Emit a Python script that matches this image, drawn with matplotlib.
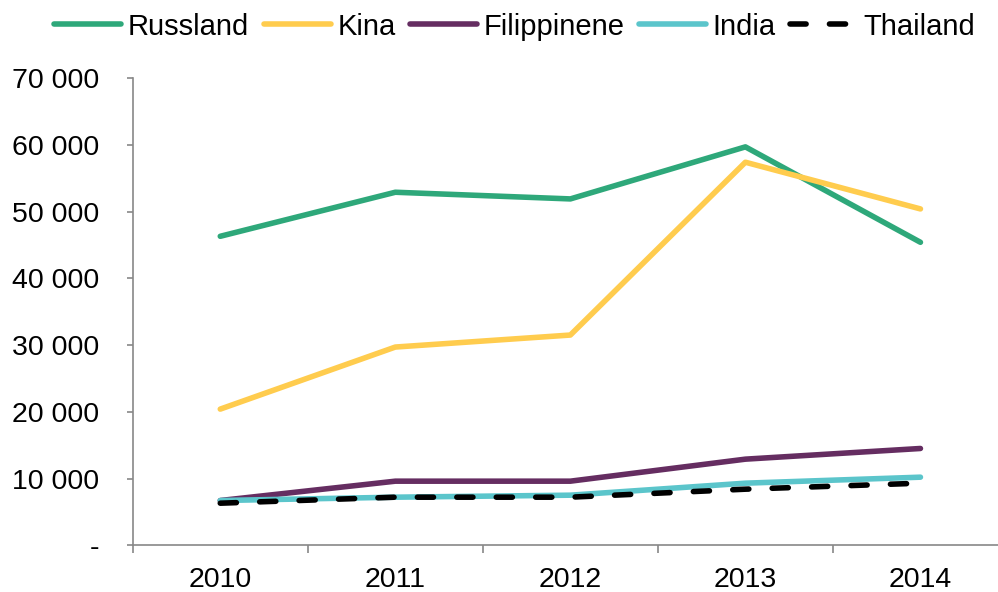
import matplotlib.pyplot as plt
import numpy as np

plt.rcParams['font.family'] = ['Liberation Sans', 'DejaVu Sans']

years = ['2010', '2011', '2012', '2013', '2014']
russland = [46300, 52900, 51900, 59700, 45400]
kina = [20400, 29700, 31500, 57400, 50400]
filippinene = [6700, 9600, 9600, 12900, 14500]
india = [6700, 7200, 7500, 9300, 10200]
thailand = [6300, 7200, 7200, 8400, 9300]

yticks = [0, 10000, 20000, 30000, 40000, 50000, 60000, 70000]
ylabels = ['-', '10 000', '20 000', '30 000', '40 000', '50 000', '60 000', '70 000']

fig = plt.figure(figsize=(9.98, 5.92), dpi=100)
ax = fig.add_axes([0.133, 0.079, 0.877, 0.789])

x = np.arange(len(years))
lw = 4.0
ax.plot(x, russland, color='#2EA87A', lw=lw, label='Russland', solid_capstyle='round')
ax.plot(x, kina, color='#FFCC4E', lw=lw, label='Kina', solid_capstyle='round')
ax.plot(x, filippinene, color='#652D61', lw=lw, label='Filippinene', solid_capstyle='round')
ax.plot(x, india, color='#5BC5CB', lw=lw, label='India', solid_capstyle='round')
ax.plot(x, thailand, color='black', lw=lw, label='Thailand', dashes=(2.9, 4.2), dash_capstyle='round')

ax.set_xlim(-0.5, 4.5)
ax.set_ylim(0, 70000)
ax.set_yticks(yticks)
ax.set_yticklabels(ylabels)
ax.set_xticks(x)
ax.set_xticklabels(years)
ax.set_xticks(np.arange(-0.5, 4.6, 1), minor=True)
ax.tick_params(axis='x', which='major', length=0, pad=16, labelsize=20.5)
ax.tick_params(axis='x', which='minor', length=6, color='#888888', width=1.2)
ax.tick_params(axis='y', length=4, color='#888888', width=1.2, pad=20, labelsize=20.5)

for s in ['top', 'right']:
    ax.spines[s].set_visible(False)
for s in ['left', 'bottom']:
    ax.spines[s].set_color('#888888')
    ax.spines[s].set_linewidth(1.2)

fig.legend(loc='center', bbox_to_anchor=(0.516, 0.955), ncol=5, frameon=False,
           fontsize=21, handlelength=2.3, handletextpad=0.22, columnspacing=0.5,
           borderaxespad=0, borderpad=0)

fig.savefig('out.png', dpi=100)
